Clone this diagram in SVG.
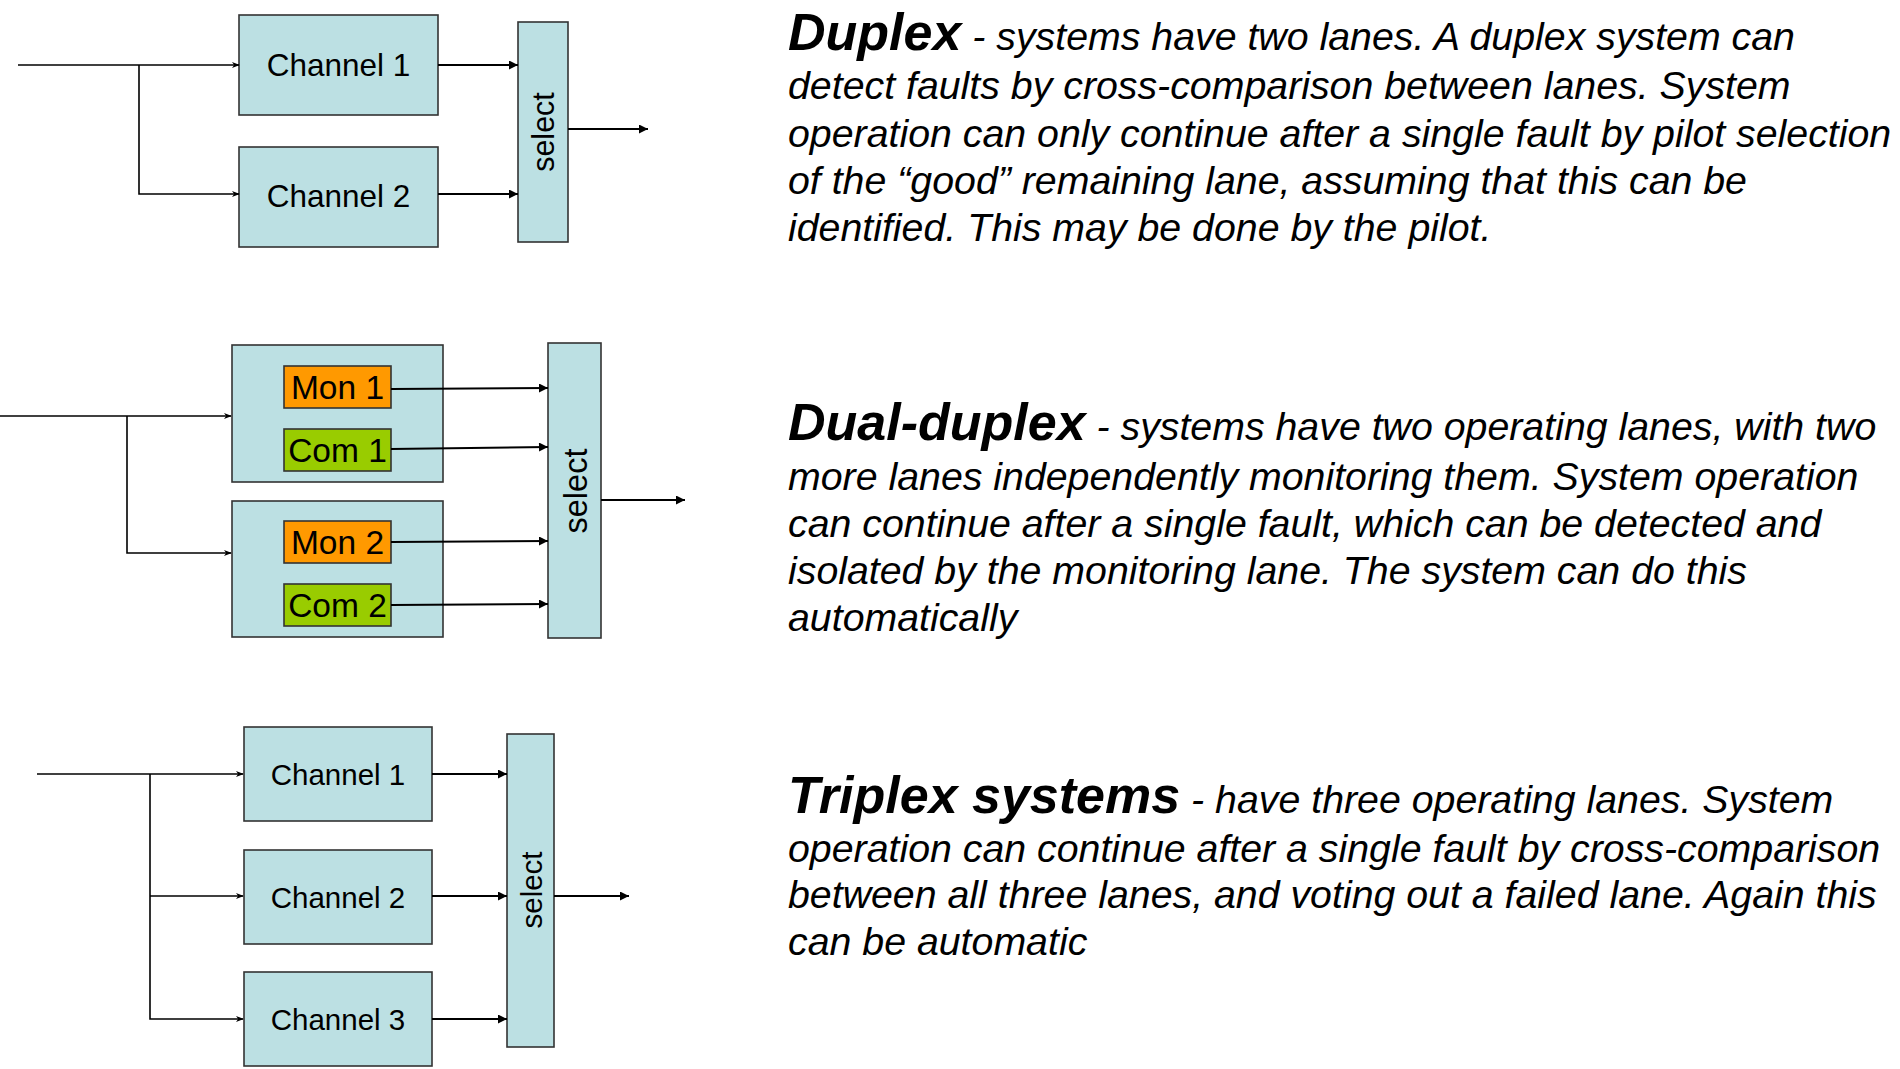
<svg xmlns="http://www.w3.org/2000/svg" width="1900" height="1069" viewBox="0 0 1900 1069">
<defs>
<style>
.box{fill:#BCE0E3;stroke:#333;stroke-width:1.6}
.mon{fill:#FF9900;stroke:#333;stroke-width:1.6}
.com{fill:#99CC00;stroke:#333;stroke-width:1.6}
.lbl{font-family:"Liberation Sans",Arial,sans-serif;fill:#000;text-anchor:middle}
.desc{font-family:"Liberation Sans",Arial,sans-serif;font-style:italic;font-size:39.3px;fill:#000}
.hd{font-weight:bold;font-size:52px}
.ln{fill:none;stroke:#000;stroke-width:1.6}
.ln2{fill:none;stroke:#000;stroke-width:2}
</style>
<marker id="open" viewBox="0 0 10 10" refX="9" refY="5" markerWidth="8" markerHeight="8" markerUnits="userSpaceOnUse" orient="auto">
<path d="M0,1 L10,5 L0,9 L3,5 z" fill="#000"/>
</marker>
<marker id="fill" viewBox="0 0 10 10" refX="10" refY="5" markerWidth="10" markerHeight="9" markerUnits="userSpaceOnUse" orient="auto">
<path d="M0,0 L10,5 L0,10 z" fill="#000"/>
</marker>
</defs>
<rect width="1900" height="1069" fill="#fff"/>

<!-- Duplex nodes -->
<g id="dup-ch1"><rect class="box" x="239" y="15" width="199" height="100"/><text class="lbl" x="338.5" y="76" font-size="31.5">Channel 1</text></g>
<g id="dup-ch2"><rect class="box" x="239" y="147" width="199" height="100"/><text class="lbl" x="338.5" y="207" font-size="31.5">Channel 2</text></g>
<g id="dup-select"><rect class="box" x="518" y="22" width="50" height="220"/><text class="lbl" font-size="30.5" transform="translate(543,132) rotate(-90)" dominant-baseline="central">select</text></g>

<!-- Dual-duplex nodes -->
<g id="dd-lane1"><rect class="box" x="232" y="345" width="211" height="137"/></g>
<g id="dd-mon1"><rect class="mon" x="284" y="366" width="107" height="42"/><text class="lbl" x="337.5" y="399" font-size="33.5">Mon 1</text></g>
<g id="dd-com1"><rect class="com" x="284" y="429" width="107" height="42"/><text class="lbl" x="337.5" y="462" font-size="33.5">Com 1</text></g>
<g id="dd-lane2"><rect class="box" x="232" y="501" width="211" height="136"/></g>
<g id="dd-mon2"><rect class="mon" x="284" y="521" width="107" height="42"/><text class="lbl" x="337.5" y="554" font-size="33.5">Mon 2</text></g>
<g id="dd-com2"><rect class="com" x="284" y="584" width="107" height="42"/><text class="lbl" x="337.5" y="617" font-size="33.5">Com 2</text></g>
<g id="dd-select"><rect class="box" x="548" y="343" width="53" height="295"/><text class="lbl" font-size="32.5" transform="translate(576,491) rotate(-90)" dominant-baseline="central">select</text></g>

<!-- Triplex nodes -->
<g id="tri-ch1"><rect class="box" x="244" y="727" width="188" height="94"/><text class="lbl" x="338" y="785" font-size="29.5">Channel 1</text></g>
<g id="tri-ch2"><rect class="box" x="244" y="850" width="188" height="94"/><text class="lbl" x="338" y="908" font-size="29.5">Channel 2</text></g>
<g id="tri-ch3"><rect class="box" x="244" y="972" width="188" height="94"/><text class="lbl" x="338" y="1030" font-size="29.5">Channel 3</text></g>
<g id="tri-select"><rect class="box" x="507" y="734" width="47" height="313"/><text class="lbl" font-size="29.5" transform="translate(531,890) rotate(-90)" dominant-baseline="central">select</text></g>

<g id="connectors">
<!-- Duplex -->
<path class="ln" d="M18,65 H239" marker-end="url(#open)"/>
<path class="ln" d="M139,65 V194 H239" marker-end="url(#open)"/>
<path class="ln2" d="M438,65 H518" marker-end="url(#fill)"/>
<path class="ln2" d="M438,194 H518" marker-end="url(#fill)"/>
<path class="ln2" d="M568,129 H648" marker-end="url(#fill)"/>
<!-- Dual-duplex -->
<path class="ln" d="M0,416 H231" marker-end="url(#open)"/>
<path class="ln" d="M127,416 V553 H231" marker-end="url(#open)"/>
<path class="ln2" d="M391,389 L548,388" marker-end="url(#fill)"/>
<path class="ln2" d="M391,449 L548,447" marker-end="url(#fill)"/>
<path class="ln2" d="M391,542 L548,541" marker-end="url(#fill)"/>
<path class="ln2" d="M391,605 L548,604" marker-end="url(#fill)"/>
<path class="ln2" d="M601,500 H685" marker-end="url(#fill)"/>
<!-- Triplex -->
<path class="ln" d="M37,774 H243" marker-end="url(#open)"/>
<path class="ln" d="M150,774 V1019 H243" marker-end="url(#open)"/>
<path class="ln" d="M150,896 H243" marker-end="url(#open)"/>
<path class="ln2" d="M432,774 H507" marker-end="url(#fill)"/>
<path class="ln2" d="M432,896 H507" marker-end="url(#fill)"/>
<path class="ln2" d="M432,1019 H507" marker-end="url(#fill)"/>
<path class="ln2" d="M554,896 H629" marker-end="url(#fill)"/>
</g>

<!-- Descriptions -->
<g id="desc-duplex">
<text class="desc" x="788" y="50"><tspan class="hd">Duplex</tspan> - systems have two lanes. A duplex system can</text>
<text class="desc" x="788" y="99">detect faults by cross-comparison between lanes. System</text>
<text class="desc" x="788" y="147">operation can only continue after a single fault by pilot selection</text>
<text class="desc" x="788" y="194">of the “good” remaining lane, assuming that this can be</text>
<text class="desc" x="788" y="241">identified. This may be done by the pilot.</text>
</g>
<g id="desc-dualduplex">
<text class="desc" x="788" y="440"><tspan class="hd">Dual-duplex</tspan> - systems have two operating lanes, with two</text>
<text class="desc" x="788" y="490">more lanes independently monitoring them. System operation</text>
<text class="desc" x="788" y="537">can continue after a single fault, which can be detected and</text>
<text class="desc" x="788" y="584">isolated by the monitoring lane. The system can do this</text>
<text class="desc" x="788" y="631">automatically</text>
</g>
<g id="desc-triplex">
<text class="desc" x="788" y="813"><tspan class="hd">Triplex systems</tspan> - have three operating lanes. System</text>
<text class="desc" x="788" y="862">operation can continue after a single fault by cross-comparison</text>
<text class="desc" x="788" y="908">between all three lanes, and voting out a failed lane. Again this</text>
<text class="desc" x="788" y="955">can be automatic</text>
</g>
</svg>
